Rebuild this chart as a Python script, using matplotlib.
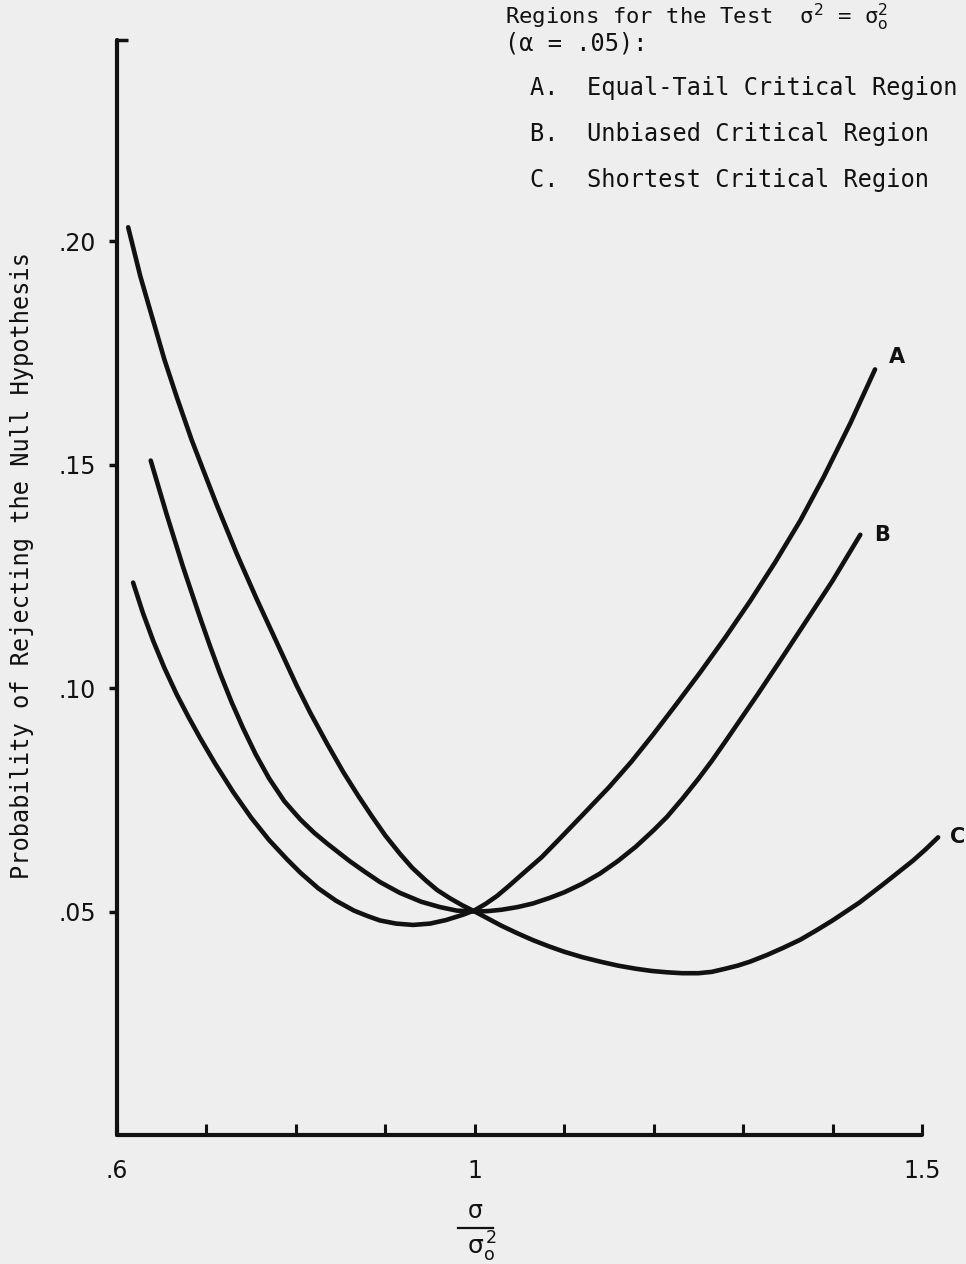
import matplotlib
matplotlib.use("Agg")
import matplotlib.pyplot as plt
from matplotlib.lines import Line2D

# ---- data ----
# A: Equal-Tail critical region
x_A = [0.618, 0.629, 0.6406, 0.653, 0.6667, 0.680, 0.693, 0.710, 0.730, 0.750, 0.770, 0.790,
       0.805, 0.825, 0.845, 0.865, 0.880, 0.894, 0.912, 0.931, 0.950, 0.968, 0.987, 1.000, 1.012,
       1.025, 1.038, 1.051, 1.075, 1.095, 1.120, 1.150, 1.175, 1.199, 1.225, 1.252, 1.280, 1.308,
       1.336, 1.364, 1.390, 1.420, 1.4475]
y_A = [0.1236, 0.1168, 0.1105, 0.1045, 0.0986, 0.0935, 0.0888, 0.0830, 0.0767, 0.0710, 0.0660, 0.0617,
       0.0587, 0.0552, 0.0524, 0.0502, 0.0490, 0.0480, 0.0473, 0.0470, 0.0473, 0.0481, 0.0493, 0.0503, 0.0517,
       0.0535, 0.0557, 0.0580, 0.0622, 0.0663, 0.0715, 0.0778, 0.0835, 0.0895, 0.0963, 0.1035, 0.1113, 0.1195,
       0.1282, 0.1375, 0.1472, 0.1593, 0.1713]

# B: Unbiased critical region
x_B = [0.6377, 0.6556, 0.674, 0.6928, 0.704, 0.715, 0.728, 0.741, 0.755, 0.770, 0.787, 0.805,
       0.820, 0.835, 0.860, 0.877, 0.894, 0.916, 0.940, 0.961, 0.980, 1.000, 1.015, 1.030,
       1.048, 1.065, 1.083, 1.100, 1.120, 1.140, 1.160, 1.180, 1.200, 1.215, 1.232, 1.250,
       1.265, 1.280, 1.316, 1.340, 1.364, 1.400, 1.431]
y_B = [0.1509, 0.1388, 0.1270, 0.1158, 0.1094, 0.1034, 0.0969, 0.0910, 0.0852, 0.0798, 0.0747, 0.0706,
       0.0677, 0.0652, 0.0613, 0.0589, 0.0566, 0.0542, 0.0522, 0.0510, 0.0502, 0.0500, 0.0501, 0.0504,
       0.0510, 0.0518, 0.0530, 0.0543, 0.0562, 0.0585, 0.0613, 0.0645, 0.0682, 0.0712, 0.0752, 0.0797,
       0.0837, 0.0880, 0.0985, 0.1057, 0.1130, 0.1240, 0.1343]

# C: Shortest critical region
x_C = [0.6125, 0.626, 0.640, 0.653, 0.667, 0.6835, 0.696, 0.7115, 0.734, 0.741, 0.756, 0.771, 0.786,
       0.801, 0.816, 0.835, 0.853, 0.870, 0.885, 0.900, 0.916, 0.930, 0.945, 0.958, 0.972, 0.986,
       1.000, 1.015, 1.030, 1.048, 1.065, 1.083, 1.100, 1.120, 1.140, 1.160, 1.180, 1.198, 1.215,
       1.232, 1.250, 1.265, 1.280, 1.294, 1.308, 1.327, 1.345, 1.364, 1.382, 1.400, 1.415, 1.430,
       1.443, 1.456, 1.473, 1.490, 1.504, 1.518]
y_C = [0.2031, 0.1922, 0.1825, 0.1735, 0.1650, 0.1555, 0.1490, 0.1410, 0.1300, 0.1268, 0.1200, 0.1135, 0.1070,
       0.1005, 0.0945, 0.0875, 0.0812, 0.0758, 0.0713, 0.0670, 0.0630, 0.0598, 0.0570, 0.0548, 0.0530, 0.0514,
       0.0500, 0.0484, 0.0468, 0.0451, 0.0436, 0.0422, 0.0410, 0.0398, 0.0388, 0.0379, 0.0372, 0.0367, 0.0364,
       0.0362, 0.0362, 0.0365, 0.0372, 0.0379, 0.0388, 0.0403, 0.0419, 0.0437, 0.0458, 0.0480, 0.0500, 0.0520,
       0.0540, 0.0560, 0.0587, 0.0614, 0.0639, 0.0666]

curve_labels = ["A", "B", "C"]
x_ticks = [0.6, 0.7, 0.8, 0.9, 1.0, 1.1, 1.2, 1.3, 1.4, 1.5]
x_ticklabels = [".6", "", "", "", "1", "", "", "", "", "1.5"]
y_ticks = [0.05, 0.10, 0.15, 0.20]
y_ticklabels = [".05", ".10", ".15", ".20"]

header_lines = [r"Regions for the Test  σ$^{2}$ = σ$_\mathrm{o}^{2}$", "(α = .05):"]
legend_lines = ["A.  Equal-Tail Critical Region",
                "B.  Unbiased Critical Region",
                "C.  Shortest Critical Region"]

# ---- figure ----
W, H = 966, 1264
bg = "#eeeeee"
ink = "#111111"
fig = plt.figure(figsize=(W / 100, H / 100), dpi=100, facecolor=bg)

def fx(px):
    return px / W

def fy(py):
    return 1 - py / H

ax = fig.add_axes([fx(117), fy(1135), fx(922) - fx(117), fy(40) - fy(1135)])
ax.set_facecolor(bg)
ax.set_xlim(0.6, 1.5)
ax.set_ylim(0.0, 0.245)

for xs, ys in [(x_A, y_A), (x_B, y_B), (x_C, y_C)]:
    ax.plot(xs, ys, color=ink, lw=3.3, solid_capstyle="round",
            solid_joinstyle="round", clip_on=False)

# curve end labels
offs = [(16, 9), (16, 0), (14, 0)]
for lab, xs, ys, off in zip(curve_labels, [x_A, x_B, x_C], [y_A, y_B, y_C], offs):
    ax.annotate(lab, (xs[-1], ys[-1]), xytext=off, textcoords="offset points",
                ha="center", va="center", fontsize=15, fontweight="bold", color=ink,
                family="DejaVu Sans", annotation_clip=False)

for s in ["top", "right"]:
    ax.spines[s].set_visible(False)
for s in ["left", "bottom"]:
    ax.spines[s].set_linewidth(3.0)
    ax.spines[s].set_color(ink)
    ax.spines[s].set_capstyle("round")

ax.set_xticks(x_ticks)
ax.set_xticklabels(x_ticklabels)
ax.set_yticks(y_ticks)
ax.set_yticklabels(y_ticklabels)
ax.set_yticks([0.245], minor=True)
ax.tick_params(axis="x", direction="in", length=8, width=2.2, color=ink,
               labelsize=17, pad=17, labelcolor=ink)
ax.tick_params(axis="y", direction="out", length=6, width=2.5, color=ink,
               labelsize=17, pad=9, labelcolor=ink)
ax.tick_params(axis="y", which="minor", direction="in", length=8, width=2.5, color=ink)
for t in ax.get_xticklabels() + ax.get_yticklabels():
    t.set_family("DejaVu Sans")

# y label
fig.text(fx(22), fy(565), "Probability of Rejecting the Null Hypothesis",
         rotation=90, ha="center", va="center", fontsize=17,
         family="DejaVu Sans Mono", color=ink)

# x label: sigma over sigma_o^2
fig.text(fx(475), fy(1211), "σ", ha="center", va="center", fontsize=17,
         family="DejaVu Sans", color=ink)
fig.add_artist(Line2D([fx(458), fx(493)], [fy(1228), fy(1228)], color=ink, lw=1.6))
fig.text(fx(482), fy(1247), r"σ$_\mathrm{o}^{\,2}$", ha="center", va="center", fontsize=18,
         family="DejaVu Sans", color=ink)

# header text
fig.text(fx(505), fy(2), header_lines[0], ha="left", va="top",
         fontsize=16, family="DejaVu Sans Mono", color=ink)
fig.text(fx(505), fy(31), header_lines[1], ha="left", va="top",
         fontsize=17, family="DejaVu Sans Mono", color=ink)
for i, line in enumerate(legend_lines):
    fig.text(fx(530), fy(88 + 46 * i), line, ha="left", va="center",
             fontsize=17, family="DejaVu Sans Mono", color=ink)

fig.savefig("out.png", dpi=100, facecolor=bg)
